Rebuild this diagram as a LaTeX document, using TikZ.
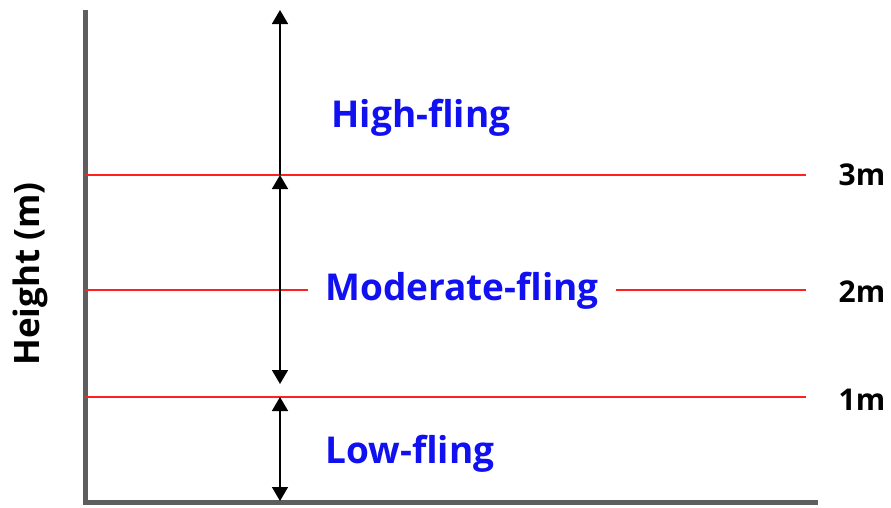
\documentclass[tikz,border=0pt]{standalone}
\usepackage{fontspec}
\setmainfont{Open Sans}
\usetikzlibrary{arrows.meta}
\definecolor{axisgray}{HTML}{5E5E5E}
\definecolor{lblblue}{HTML}{1010F0}
\definecolor{lvlred}{HTML}{FF2020}
\begin{document}
\begin{tikzpicture}[x=1pt,y=-1pt,
  redline/.style={draw=lvlred, line width=1.6pt},
  axisline/.style={draw=axisgray, line width=5pt},
  tip/.style={},
  vecline/.style={draw=black, line width=1.6pt, -{Triangle[length=14pt,width=16pt]}},
  dvecline/.style={draw=black, line width=1.6pt, {Triangle[length=14pt,width=16pt]}-{Triangle[length=14pt,width=16pt]}},
  zone/.style={text=lblblue, font=\fontsize{37}{40}\selectfont\bfseries, inner sep=0pt, anchor=base},
  mlabel/.style={text=black, font=\fontsize{30}{32}\selectfont\bfseries, inner sep=0pt, anchor=base}
]
\useasboundingbox (0,0) rectangle (891,507);
% axes
\coordinate (ytop) at (85,10);
\coordinate (origin) at (85,502);
\coordinate (xend) at (818,502);
\draw[axisline] (ytop) -- (origin) -- (xend);
% labels
\node[zone] (high) at (421,127) {High-fling};
\node[zone] (mod) at (462,300) {Moderate-fling};
\node[zone] (low) at (410,463) {Low-fling};
% red levels
\coordinate (l3a) at (85,175); \coordinate (l3b) at (806,175);
\coordinate (l2a) at (85,290); \coordinate (l2b) at (806,290);
\coordinate (l1a) at (85,397); \coordinate (l1b) at (806,397);
\draw[redline] (l3a) -- (l3b);
\draw[redline] (l2a) -- ([xshift=-17pt]mod.west |- l2a);
\draw[redline] ([xshift=17pt]mod.east |- l2b) -- (l2b);
\draw[redline] (l1a) -- (l1b);
% arrows
\coordinate (a0) at (280,10);
\coordinate (a1) at (280,175);
\coordinate (a2) at (280,384);
\coordinate (a3) at (280,397);
\coordinate (a4) at (280,501);
\draw[vecline] (a1) -- (a0);
\draw[dvecline] (a1) -- (a2);
\draw[dvecline] (a3) -- (a4);
% axis value labels
\node[mlabel] (m3) at (862,185) {3m};
\node[mlabel] (m2) at (862,302) {2m};
\node[mlabel] (m1) at (862,410) {1m};
\node[rotate=90, inner sep=0pt, font=\fontsize{35}{37}\selectfont\bfseries] (ylab) at (30,274) {Height (m)};
\end{tikzpicture}
\end{document}
